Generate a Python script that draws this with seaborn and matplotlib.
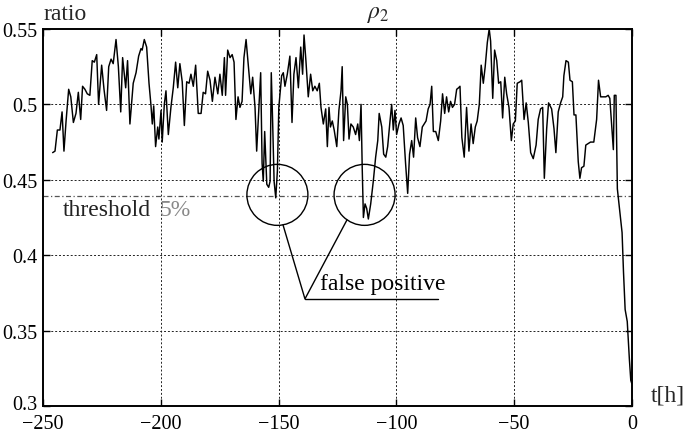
import seaborn as sns
import pandas as pd
import numpy as np
import matplotlib.pyplot as plt
from matplotlib.patches import Ellipse
from matplotlib.transforms import ScaledTranslation

# time before event [h] and ratio rho_2
t_h = [-245.9, -244.9, -243.9, -242.8, -241.9, -241.1, -240.2, -239.1, -238.2, -237.1,
       -236.0, -235.0, -234.0, -233.2, -232.2, -231.2, -230.1, -229.1, -228.2, -227.2,
       -226.4, -225.1, -224.1, -223.0, -222.1, -221.1, -220.2, -219.0, -218.0, -217.0,
       -216.2, -214.9, -214.1, -213.1, -211.7, -210.5, -209.4,
       -208.4, -207.9, -207.0, -206.0, -205.0, -204.2, -203.6, -203.0, -202.2, -201.3,
       -200.8, -199.9, -199.4, -198.5, -197.8, -196.8, -195.7, -194.7, -193.7, -192.8,
       -191.9, -190.9, -190.0, -189.0, -188.0, -187.2, -186.2, -185.2, -184.1, -182.9,
       -182.0, -181.0, -180.1, -179.1, -178.1, -177.0, -175.8, -174.9, -173.9, -173.0,
       -172.5, -171.6, -170.6, -169.7, -168.9,
       -168.1, -167.2, -166.4, -165.5, -164.7, -163.8, -162.9, -161.8, -161.0, -160.0,
       -159.3, -158.4, -157.6, -157.0, -156.5, -155.9, -155.0, -154.2, -153.6, -153.1,
       -152.5, -151.9, -151.2, -150.5, -149.9, -148.7, -148.0, -147.3, -146.3, -145.2,
       -144.3, -143.5, -142.6, -141.6, -140.6, -139.8, -139.2, -138.4, -137.4, -136.4,
       -135.5, -134.6, -133.6, -132.7, -132.0, -131.0, -130.0, -129.3, -128.6, -128.0,
       -127.2, -126.4, -125.3, -124.4, -123.5, -123.0, -122.4, -121.5, -120.8, -120.1,
       -119.3, -118.3, -117.3, -116.4, -115.7, -115.0, -114.5, -114.0, -113.3, -112.6,
       -111.9, -110.9, -109.8, -108.8, -107.9, -107.3, -106.2, -105.4, -104.5, -103.7,
       -102.7, -102.0, -101.3, -100.6, -99.9, -98.9, -98.0, -97.1, -96.1, -95.2,
       -94.4, -93.5, -92.7, -91.8, -91.0, -90.0, -89.0, -88.2,
       -87.4, -86.5, -85.7, -85.0, -84.3, -83.3, -82.2, -81.2, -80.4, -79.5,
       -78.7, -77.8, -77.0, -76.2, -75.3, -74.4, -73.6, -73.0, -72.2, -71.2,
       -70.2, -69.2, -68.3, -67.4, -66.5, -65.7, -64.8, -64.0, -63.1, -62.3,
       -61.4, -60.6, -60.0, -59.1, -58.3, -57.4, -56.6, -55.7, -54.9, -54.0,
       -53.2, -52.2, -51.2, -50.4, -49.5, -48.7,
       -47.5, -46.8, -45.8, -44.9, -44.0, -43.0, -41.9, -40.7, -39.8, -38.8,
       -37.9, -37.2, -36.2, -35.4, -34.1, -33.1, -32.3, -31.3, -30.3, -29.4,
       -28.9, -28.0, -27.0, -26.3, -25.3, -24.6, -23.8, -22.8, -22.1, -21.4,
       -20.4, -19.6, -18.6, -17.6, -16.2, -15.0, -14.2, -13.3, -12.2, -11.1,
       -10.1, -9.4, -8.6, -7.9, -7.5, -6.8, -6.2, -5.1, -4.2, -3.6,
       -2.9, -2.0, -1.1, -0.5, -0.1]

ratio = [0.468, 0.469, 0.483, 0.483, 0.495, 0.469, 0.489, 0.510, 0.505, 0.488,
         0.494, 0.508, 0.490, 0.512, 0.510, 0.507, 0.506, 0.529, 0.528, 0.533,
         0.500, 0.526, 0.510, 0.496, 0.525, 0.530, 0.527, 0.543, 0.525, 0.495,
         0.531, 0.511, 0.529, 0.487, 0.514, 0.521, 0.532,
         0.537, 0.536, 0.543, 0.538, 0.514, 0.500, 0.487, 0.499, 0.472, 0.485,
         0.477, 0.496, 0.475, 0.500, 0.509, 0.480, 0.498, 0.511, 0.528, 0.511,
         0.527, 0.515, 0.486, 0.515, 0.514, 0.520, 0.512, 0.526, 0.494, 0.494,
         0.508, 0.507, 0.522, 0.516, 0.502, 0.518, 0.507, 0.520, 0.506, 0.531,
         0.506, 0.536, 0.531, 0.533, 0.528,
         0.490, 0.505, 0.498, 0.502, 0.531, 0.543, 0.527, 0.507, 0.518, 0.498,
         0.469, 0.496, 0.521, 0.461, 0.449, 0.482, 0.447, 0.445, 0.449, 0.521,
         0.487, 0.449, 0.438, 0.456, 0.498, 0.519, 0.521, 0.512, 0.520, 0.532,
         0.488, 0.520, 0.531, 0.511, 0.538, 0.520, 0.546, 0.529, 0.505, 0.520,
         0.509, 0.512, 0.509, 0.514, 0.498, 0.487, 0.497, 0.472, 0.498, 0.485,
         0.489, 0.483, 0.472, 0.496, 0.509, 0.525, 0.476, 0.505, 0.500, 0.477,
         0.487, 0.485, 0.480, 0.487, 0.476, 0.500, 0.458, 0.425, 0.434, 0.431,
         0.424, 0.434, 0.449, 0.465, 0.476, 0.494, 0.485, 0.467, 0.465, 0.472,
         0.489, 0.500, 0.483, 0.496, 0.480, 0.487, 0.491, 0.486, 0.461, 0.441,
         0.467, 0.476, 0.465, 0.491, 0.478, 0.472, 0.485, 0.487,
         0.489, 0.497, 0.500, 0.512, 0.482, 0.482, 0.476, 0.489, 0.507, 0.494,
         0.505, 0.495, 0.502, 0.498, 0.500, 0.510, 0.511, 0.512, 0.478, 0.465,
         0.498, 0.469, 0.487, 0.474, 0.485, 0.489, 0.500, 0.526, 0.514, 0.525,
         0.541, 0.550, 0.542, 0.504, 0.536, 0.529, 0.514, 0.515, 0.491, 0.518,
         0.507, 0.498, 0.476, 0.487, 0.489, 0.514,
         0.515, 0.516, 0.490, 0.501, 0.488, 0.468, 0.464, 0.473, 0.490, 0.497,
         0.498, 0.451, 0.484, 0.501, 0.497, 0.484, 0.468, 0.495, 0.501, 0.505,
         0.519, 0.529, 0.528, 0.516, 0.515, 0.493, 0.493, 0.462, 0.451, 0.458,
         0.459, 0.473, 0.474, 0.475, 0.475, 0.490, 0.516, 0.505, 0.505, 0.505,
         0.506, 0.504, 0.486, 0.470, 0.506, 0.506, 0.444, 0.428, 0.415, 0.389,
         0.364, 0.356, 0.331, 0.317, 0.315]

threshold = 0.439
x_ticks = [-250, -200, -150, -100, -50, 0]
y_ticks = [0.3, 0.35, 0.4, 0.45, 0.5, 0.55]

# false positive markers (centre t, centre ratio)
fp_t = [-150.5, -113.5]
fp_r = [0.440, 0.440]

df = pd.DataFrame({'t': t_h, 'ratio': ratio})

sns.set_theme(style='ticks')
plt.rcParams['font.family'] = ['Liberation Serif', 'DejaVu Serif']
plt.rcParams['mathtext.fontset'] = 'stix'

fig = plt.figure(figsize=(6.99, 4.35), dpi=100)
ax = fig.add_axes([0.0615, 0.0644, 0.8426, 0.8667])

sns.lineplot(data=df, x='t', y='ratio', ax=ax, color='black', lw=1.05,
             estimator=None, sort=False)

ax.set_xlim(-250, 0)
ax.set_ylim(0.3, 0.55)
ax.set_xticks(x_ticks)
ax.set_yticks(y_ticks)
ax.set_xticklabels([f'{v}'.replace('-', '\u2212') for v in x_ticks])
ax.set_yticklabels([f'{v:g}' for v in y_ticks])
ax.tick_params(direction='in', top=True, right=True, length=5, width=1,
               labelsize=14.5, colors='black')
ax.tick_params(axis='x', pad=6)
ax.tick_params(axis='y', pad=4)
ax.set_xlabel('')
ax.set_ylabel('')
for s in ax.spines.values():
    s.set_linewidth(1.4)
    s.set_color('black')

# lowest y label sits a little above its tick in the reference
lbl = ax.get_yticklabels()[0]
lbl.set_transform(lbl.get_transform() + ScaledTranslation(0, 4 / 100, fig.dpi_scale_trans))

# dotted grid, skip the frame edges
for x in x_ticks[1:-1]:
    ax.axvline(x, color='#222222', lw=0.7, ls=(0, (2, 2)), zorder=0)
for y in y_ticks[1:-1]:
    ax.axhline(y, color='#222222', lw=0.7, ls=(0, (2, 2)), zorder=0)

ax.axhline(threshold, color='#555555', lw=0.9, ls=(0, (4, 2, 1, 2)), zorder=0)
ax.text(-241.5, 0.4265, 'threshold', fontsize=17, color='#222222', va='baseline')
ax.text(-200.4, 0.4265, '5%', fontsize=17, color='#888888', va='baseline')

# circles round the false positives, round in pixels
px_x = 589 / 250
px_y = 377 / 0.25
for ct, cr in zip(fp_t, fp_r):
    ax.add_patch(Ellipse((ct, cr), 2 * 30.5 / px_x, 2 * 30.5 / px_y,
                         fill=False, ec='black', lw=1.0))

ax.plot([-148.1, -138.8, -121.0], [0.420, 0.371, 0.4233], color='black', lw=1.0)
ax.plot([-138.8, -82.3], [0.371, 0.371], color='black', lw=1.0)
ax.text(-132.4, 0.3776, 'false positive', fontsize=17, color='black', va='baseline')

fig.text(43 / 699, 1 - 20 / 435, 'ratio', fontsize=17, va='baseline', ha='left')
fig.text(378 / 699, 1 - 18 / 435, r'$\rho_2$', fontsize=17, va='baseline', ha='center')
fig.text(651 / 699, 1 - 402 / 435, 't[h]', fontsize=17, va='baseline', ha='left')

fig.savefig('out.png', dpi=100)
